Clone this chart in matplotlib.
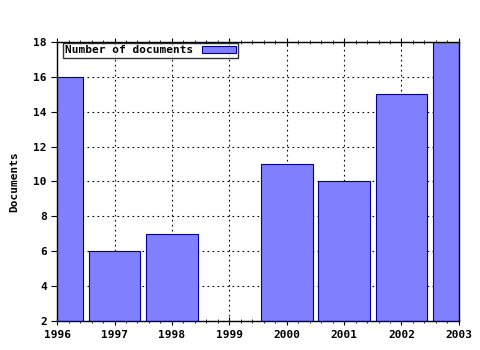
import matplotlib.pyplot as plt
from matplotlib.ticker import MultipleLocator

years = [1996, 1997, 1998, 1999, 2000, 2001, 2002, 2003]
docs = [16, 6, 7, 0, 11, 10, 15, 18]

plt.rcParams['font.family'] = 'DejaVu Sans Mono'
plt.rcParams['font.weight'] = 'bold'
plt.rcParams['font.size'] = 8

fig = plt.figure(figsize=(4.8, 3.5), dpi=100)
ax = fig.add_axes([0.119, 0.083, 0.837, 0.797])

ax.bar(years, docs, width=0.9, color='#8080ff', edgecolor='#000099',
       linewidth=0.8, label='Number of documents', zorder=2)

ax.set_xlim(1996, 2003)
ax.set_ylim(2, 18)
ax.set_xticks(years)
ax.set_yticks(range(2, 19, 2))
ax.xaxis.set_minor_locator(MultipleLocator(0.2))
ax.grid(True, color='black', linestyle=(0, (1.5, 3)), linewidth=0.8, zorder=1)
ax.tick_params(axis='x', which='both', direction='inout', top=True)
ax.tick_params(axis='x', which='major', length=6)
ax.tick_params(axis='x', which='minor', length=3)
ax.tick_params(axis='y', direction='out', length=4)
ax.set_ylabel('Documents', fontsize=8, fontweight='bold', labelpad=10)

for s in ax.spines.values():
    s.set_linewidth(1)

leg = ax.legend(loc='upper left', bbox_to_anchor=(0.012, 1.0), frameon=True,
                fancybox=False, borderpad=0.2, handlelength=3, handleheight=0.6,
                markerfirst=False, borderaxespad=0.1)
leg.get_frame().set_edgecolor('black')
leg.get_frame().set_linewidth(1)

fig.savefig('out.png', dpi=100)
